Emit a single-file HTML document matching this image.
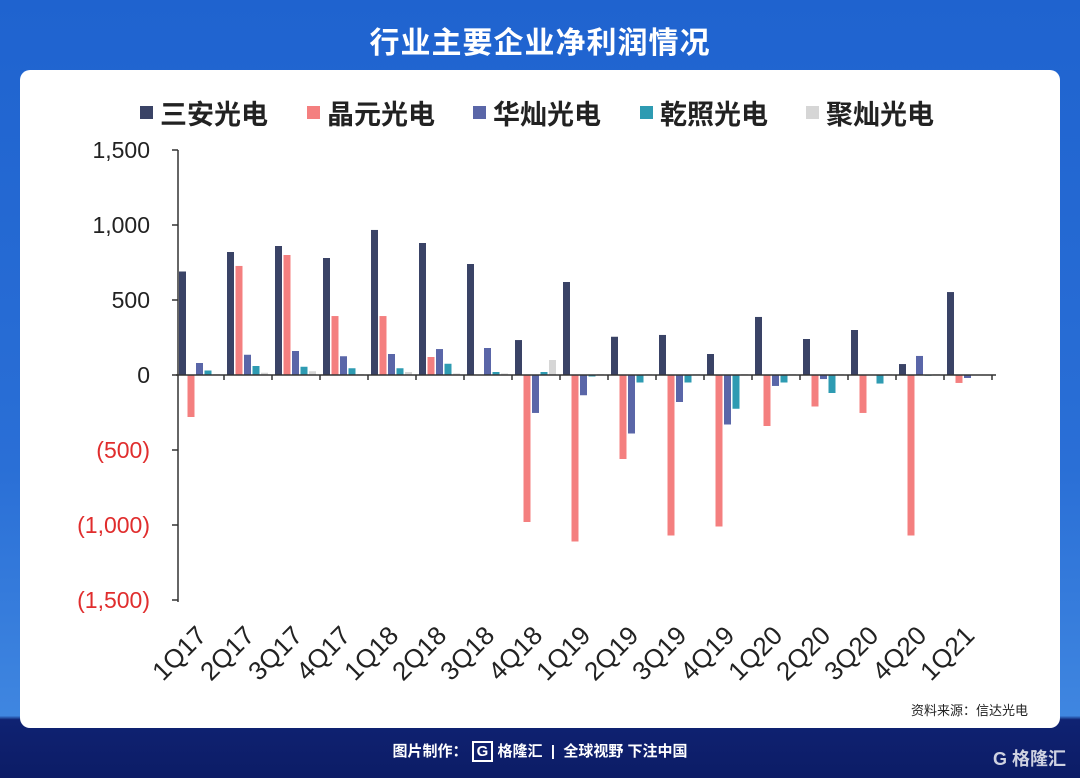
<!DOCTYPE html>
<html><head><meta charset="utf-8">
<style>
body{margin:0;width:1080px;height:778px;overflow:hidden;font-family:"Liberation Sans","Noto Sans CJK SC",sans-serif;background:linear-gradient(180deg,#1f63cf 0%,#2a6fd6 60%,#3f86e0 92%,#0f2272 92.5%,#0c1c66 100%);position:relative}
#title{position:absolute;top:18px;width:100%;text-align:center;color:#fff;font-size:30px;font-weight:bold;letter-spacing:1px}
#card{position:absolute;left:20px;top:70px;width:1040px;height:658px;background:#fff;border-radius:10px}
#footer{position:absolute;top:740px;left:0;width:100%;text-align:center;color:#fff;font-size:15px;font-weight:bold}
#brand{position:absolute;right:14px;top:745px;color:#fff;font-size:18px;font-weight:bold;opacity:.8}
</style></head><body>
<div id="title">行业主要企业净利润情况</div>
<div id="card"></div>
<svg id="chart" width="1080" height="778" style="position:absolute;left:0;top:0" font-family="Liberation Sans, Noto Sans CJK SC, sans-serif"></svg>
<div id="footer">图片制作： <span style="border:2px solid #fff;padding:0 3px">G</span> 格隆汇 &nbsp;|&nbsp; 全球视野 下注中国</div>
<div id="brand">G 格隆汇</div>
<script>
const categories=["1Q17","2Q17","3Q17","4Q17","1Q18","2Q18","3Q18","4Q18","1Q19","2Q19","3Q19","4Q19","1Q20","2Q20","3Q20","4Q20","1Q21"];
const seriesNames=["三安光电","晶元光电","华灿光电","乾照光电","聚灿光电"];
const sanan=[690,820,860,780,967,880,740,233,620,255,267,140,387,240,300,73,553];
const jingyuan=[-280,727,800,393,393,120,0,-980,-1110,-560,-1070,-1010,-340,-210,-253,-1070,-53];
const huacan=[80,135,160,125,140,173,180,-253,-135,-390,-180,-330,-73,-27,0,127,-20];
const qianzhao=[30,60,55,45,45,75,20,20,-10,-50,-50,-225,-50,-120,-57,-5,0];
const jucan=[5,15,25,5,20,10,10,100,5,5,5,5,5,5,5,5,0];
const yTicks=[1500,1000,500,0,-500,-1000,-1500];
const yTickLabels=["1,500","1,000","500","0","(500)","(1,000)","(1,500)"];
const colors=["#3a4366","#f47f7f","#5a66a8","#2e9bb2","#d6d6d6"];
const svg=document.getElementById('chart');const NS="http://www.w3.org/2000/svg";
function mk(t,a,p){const e=document.createElementNS(NS,t);for(const k in a)e.setAttribute(k,a[k]);(p||svg).appendChild(e);return e;}
const x0=176,slot=48,zeroY=375,scale=75/500;
const y=v=>zeroY-v*scale;
const xs=i=>x0+i*slot;
const allSeries=[sanan,jingyuan,huacan,qianzhao,jucan];
const offs=[3,11.5,20,28.5,37];
const legX=[140,307,473,640,806];
seriesNames.forEach((n,s)=>{
  const g=mk('g',{});
  
  
  mk('rect',{x:legX[s],y:106,width:13,height:13,fill:colors[s]},g);
  mk('text',{x:legX[s]+20,y:124,'font-size':27,fill:'#222','font-weight':'bold'},g).textContent=n;
});
yTicks.forEach((t,i)=>{
  const tx=mk('text',{x:150,y:y(t)+8,'text-anchor':'end','font-size':23,fill:t<0?'#e02d2d':'#222'});
  
  
  tx.textContent=yTickLabels[i];
  mk('line',{x1:172,x2:178,y1:y(t),y2:y(t),stroke:'#333','stroke-width':1.5});
});
allSeries.forEach((arr,s)=>{
  arr.forEach((v,i)=>{
    const r=mk('rect',{x:xs(i)+offs[s],y:Math.min(y(v),zeroY),width:7,height:Math.abs(v*scale),fill:colors[s]});
    
    
  });
});
const ya=mk('line',{x1:178,x2:178,y1:150,y2:602,stroke:'#333','stroke-width':1.5});


const xa=mk('line',{x1:176,x2:996,y1:zeroY,y2:zeroY,stroke:'#333','stroke-width':1.5});


categories.forEach((c,i)=>{
  mk('line',{x1:xs(i+1),x2:xs(i+1),y1:zeroY,y2:zeroY+5,stroke:'#333','stroke-width':1.5});
  const cx=xs(i)+slot/2+8,cy=637;
  const t=mk('text',{x:cx,y:cy,'text-anchor':'end','font-size':26,fill:'#222',transform:`rotate(-45 ${cx} ${cy})`});
  
  
  t.textContent=c;
});
const src=mk('text',{x:1028,y:715,'text-anchor':'end','font-size':13,fill:'#222'});


src.textContent="资料来源：信达光电";
</script>
</body></html>
